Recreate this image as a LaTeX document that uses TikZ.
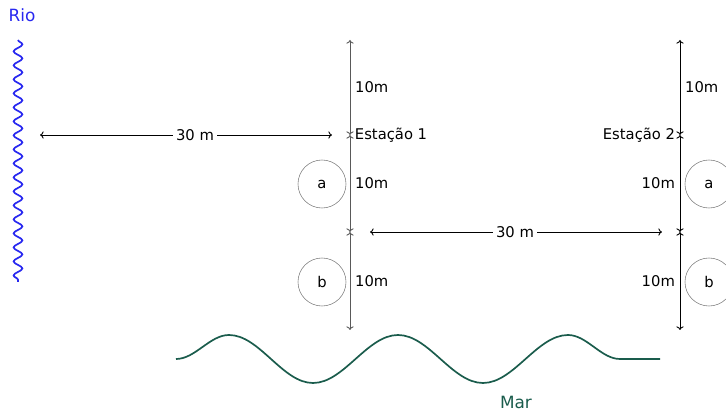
\documentclass[tikz,border=0pt]{standalone}
\usepackage{fontspec}
\setmainfont{DejaVu Sans}
\usepackage{xcolor}
\usetikzlibrary{arrows.meta, decorations.pathmorphing}

\definecolor{rioblue}{HTML}{2828F0}
\definecolor{marteal}{HTML}{1A5C4C}

\begin{document}
\begin{tikzpicture}[
    x=0.025cm, y=-0.025cm,
    every node/.style={font=\fontsize{10.5}{12}\selectfont},
    dim/.style={{To[length=0.9mm,width=1.8mm]}-{To[length=0.9mm,width=1.8mm]}, semithick},
    dist/.style={fill=white, inner sep=2pt},
    ball/.style={circle, draw=gray, minimum size=1.2cm, inner sep=0pt}
]
\useasboundingbox (0,0) rectangle (726,413);

% rio
\node[text=rioblue, font=\fontsize{12}{14}\selectfont] (rio) at (22,15) {Rio};
\draw[rioblue, line width=1.2pt, decorate,
      decoration={snake, segment length=0.35cm, amplitude=0.11cm}] (18,40) -- (18,282);
\coordinate (rioend) at (40,135);

% estacao 1
\coordinate (s1top) at (350,40);
\coordinate (s1) at (350,135);
\coordinate (s1mid) at (350,232);
\coordinate (s1bot) at (350,330);
\draw[dim, black!65] (s1top) -- node[right, text=black]{10m} (s1);
\draw[dim, black!65] (s1) -- node[right, text=black]{10m} (s1mid);
\draw[dim, black!65] (s1mid) -- node[right, text=black]{10m} (s1bot);
\node[right] (est1) at (s1) {Estação 1};
\node[ball] (a1) at (322,184) {a};
\node[ball] (b1) at (322,282) {b};

% estacao 2
\coordinate (s2top) at (680,40);
\coordinate (s2) at (680,135);
\coordinate (s2mid) at (680,232);
\coordinate (s2bot) at (680,330);
\draw[dim] (s2top) -- node[right]{10m} (s2);
\draw[dim] (s2) -- node[left]{10m} (s2mid);
\draw[dim] (s2mid) -- node[left]{10m} (s2bot);
\node[left] (est2) at (s2) {Estação 2};
\node[ball] (a2) at (709,184) {a};
\node[ball] (b2) at (709,282) {b};

% distancias
\draw[dim, shorten >=0.45cm] (rioend) -- node[dist]{30 m} (s1);
\draw[dim, shorten <=0.5cm, shorten >=0.45cm] (s1mid) -- node[dist]{30 m} (s2mid);

% mar
\draw[marteal, line width=1.2pt] (176,359) cos ++(26.5,-12) sin ++(26.5,-12)
    cos ++(42,24) sin ++(42,24) cos ++(42.5,-24) sin ++(42.5,-24)
    cos ++(42.5,24) sin ++(42.5,24) cos ++(42.5,-24) sin ++(42.5,-24)
    cos ++(26,12) sin ++(26,12) -- (660,359);
\node[text=marteal, font=\fontsize{12}{14}\selectfont] (mar) at (516,402) {Mar};

\end{tikzpicture}
\end{document}
